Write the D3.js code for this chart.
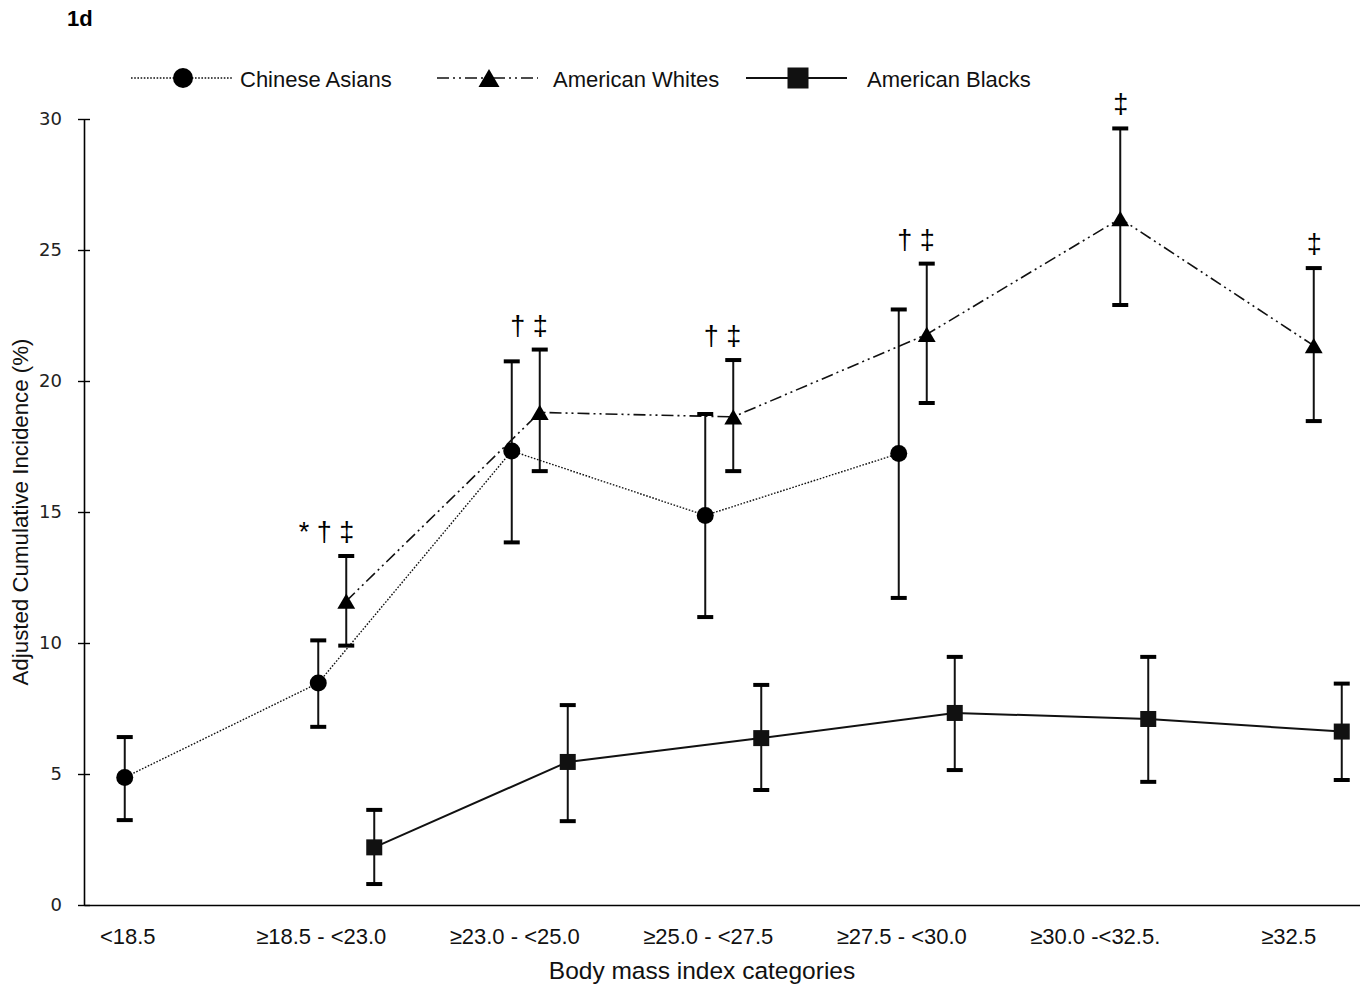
<!DOCTYPE html>
<html>
<head>
<meta charset="utf-8">
<script src="https://cdn.jsdelivr.net/npm/d3@7"></script>
<style>
  body { margin: 0; background: #fff; }
  svg { display: block; }
</style>
</head>
<body>
<svg id="chart"></svg>
<script>
var width = 1360;
var height = 985;

// categories and series
var categories = ["<18.5", "≥18.5 - <23.0", "≥23.0 - <25.0", "≥25.0 - <27.5", "≥27.5 - <30.0", "≥30.0 -<32.5.", "≥32.5"];
var seriesNames = ["Chinese Asians", "American Whites", "American Blacks"];

var chineseValues = [4.87, 8.47, 17.33, 14.87, 17.23, null, null];
var chineseLower  = [3.24, 6.80, 13.84, 10.99, 11.72, null, null];
var chineseUpper  = [6.41, 10.10, 20.75, 18.74, 22.73, null, null];

var whitesValues = [null, 11.60, 18.80, 18.63, 21.78, 26.20, 21.35];
var whitesLower  = [null, 9.90, 16.56, 16.56, 19.16, 22.90, 18.47];
var whitesUpper  = [null, 13.32, 21.20, 20.80, 24.48, 29.64, 24.31];

var blacksValues = [null, 2.20, 5.46, 6.37, 7.33, 7.10, 6.62];
var blacksLower  = [null, 0.80, 3.20, 4.39, 5.15, 4.70, 4.77];
var blacksUpper  = [null, 3.63, 7.63, 8.40, 9.47, 9.47, 8.45];

// significance marks above the American Whites bars
var annotations = ["", "* † ‡", "† ‡", "† ‡", "† ‡", "‡", "‡"];
var yTicks = [0, 5, 10, 15, 20, 25, 30];

var series = [
  {name: seriesNames[0], values: chineseValues, lower: chineseLower, upper: chineseUpper, marker: "circle", dash: "1.6,1.6", width: 1.4},
  {name: seriesNames[1], values: whitesValues, lower: whitesLower, upper: whitesUpper, marker: "triangle", dash: "12,4,2,4,2,4", width: 1.6},
  {name: seriesNames[2], values: blacksValues, lower: blacksLower, upper: blacksUpper, marker: "square", dash: null, width: 2}
];

var margin = {left: 84, top: 119, bottom: 80};
var bandW = 193.5;
var font = "Liberation Sans, Arial, sans-serif";

var x = d3.scaleBand()
    .domain(categories)
    .range([margin.left, margin.left + bandW * categories.length]);
//offset of each series inside a category
var sub = d3.scalePoint()
    .domain(seriesNames)
    .range([-56, 0]);
var y = d3.scaleLinear()
    .domain([0, 30])
    .range([height - margin.bottom, margin.top]);

function px(cat, name) { return x(cat) + x.bandwidth() / 2 + sub(name); }

var svg = d3.select("#chart")
    .attr("width", width)
    .attr("height", height);

// marker drawing
function drawMarker(g, type, cx, cy, s) {
  if (type === "circle") {
    g.append("circle").attr("cx", cx).attr("cy", cy).attr("r", s / 2).attr("fill", "#000");
  } else if (type === "square") {
    g.append("rect").attr("x", cx - s / 2).attr("y", cy - s / 2).attr("width", s).attr("height", s).attr("fill", "#111");
  } else {
    var w = s * 1.05, h = s * 0.9;
    g.append("path")
      .attr("d", "M" + cx + "," + (cy - h / 2) + "L" + (cx - w / 2) + "," + (cy + h / 2) + "L" + (cx + w / 2) + "," + (cy + h / 2) + "Z")
      .attr("fill", "#000");
  }
}

// title
svg.append("text")
    .attr("x", 67).attr("y", 26)
    .attr("font-family", font)
    .attr("font-weight", "bold")
    .attr("font-size", 22)
    .text("1d");

// y axis
var yAxis = svg.append("g")
    .attr("transform", "translate(" + margin.left + ",0)")
    .call(d3.axisLeft(y).tickValues(yTicks).tickSizeInner(6).tickSizeOuter(0).tickPadding(16));
yAxis.select(".domain").attr("stroke", "#000").attr("stroke-width", 1.6);
yAxis.selectAll(".tick line").attr("x1", 6).attr("stroke", "#000").attr("stroke-width", 1.4);
yAxis.selectAll(".tick text")
    .attr("font-family", "DejaVu Sans, Verdana, sans-serif")
    .attr("font-size", 18)
    .attr("fill", "#222");

// x axis
var xAxis = svg.append("g")
    .attr("transform", "translate(0," + y(0) + ")")
    .call(d3.axisBottom(x).tickSize(0).tickPadding(23));
xAxis.select(".domain").attr("stroke", "#000").attr("stroke-width", 1.6);
xAxis.selectAll(".tick text")
    .attr("x", sub(seriesNames[0]) + 3)
    .attr("font-family", font)
    .attr("font-size", 22)
    .attr("fill", "#111");

// axis titles
svg.append("text")
    .attr("x", 702).attr("y", 979)
    .attr("text-anchor", "middle")
    .attr("font-family", font)
    .attr("font-size", 24.5)
    .attr("fill", "#111")
    .text("Body mass index categories");
svg.append("text")
    .attr("transform", "translate(28," + y(15) + ") rotate(-90)")
    .attr("text-anchor", "middle")
    .attr("font-family", font)
    .attr("font-size", 22.3)
    .attr("fill", "#111")
    .text("Adjusted Cumulative Incidence (%)");

// lines
series.forEach(function(s) {
  var pts = categories.map(function(c, i) { return {c: c, v: s.values[i]}; });
  var line = d3.line()
      .defined(function(d) { return d.v != null; })
      .x(function(d) { return px(d.c, s.name); })
      .y(function(d) { return y(d.v); });
  svg.append("path")
      .datum(pts)
      .attr("fill", "none")
      .attr("stroke", "#111")
      .attr("stroke-width", s.width)
      .attr("stroke-dasharray", s.dash)
      .attr("d", line);
});

// error bars and markers
series.forEach(function(s) {
  var g = svg.append("g");
  categories.forEach(function(c, i) {
    if (s.values[i] == null) return;
    var cx = px(c, s.name);
    g.append("line")
      .attr("x1", cx).attr("x2", cx)
      .attr("y1", y(s.lower[i])).attr("y2", y(s.upper[i]))
      .attr("stroke", "#111").attr("stroke-width", 2);
    [s.lower[i], s.upper[i]].forEach(function(v) {
      g.append("line")
        .attr("x1", cx - 8).attr("x2", cx + 8)
        .attr("y1", y(v)).attr("y2", y(v))
        .attr("stroke", "#000").attr("stroke-width", 4);
    });
    drawMarker(g, s.marker, cx, y(s.values[i]), s.marker === "square" ? 16 : 17);
  });
});

// significance marks
svg.append("g").selectAll("text")
    .data(categories)
    .enter().append("text")
    .attr("x", function(c) { return px(c, seriesNames[1]) + 8; })
    .attr("y", function(c, i) { return whitesUpper[i] == null ? 0 : y(whitesUpper[i]) - 15; })
    .attr("text-anchor", "end")
    .attr("font-family", font)
    .attr("font-size", 27)
    .attr("fill", "#000")
    .attr("xml:space", "preserve")
    .text(function(c, i) { return annotations[i]; });

// legend
var legendItems = [
  {x: 131, textX: 240},
  {x: 437, textX: 553},
  {x: 746, textX: 867}
];
var legend = svg.append("g");
series.forEach(function(s, i) {
  var it = legendItems[i];
  legend.append("line")
    .attr("x1", it.x).attr("x2", it.x + 101)
    .attr("y1", 78).attr("y2", 78)
    .attr("stroke", "#111")
    .attr("stroke-width", s.width)
    .attr("stroke-dasharray", s.dash);
  drawMarker(legend, s.marker, it.x + 52, 78, s.marker === "square" ? 21 : 20);
  legend.append("text")
    .attr("x", it.textX).attr("y", 87)
    .attr("font-family", font)
    .attr("font-size", 22)
    .attr("fill", "#111")
    .text(s.name);
});
</script>
</body>
</html>
